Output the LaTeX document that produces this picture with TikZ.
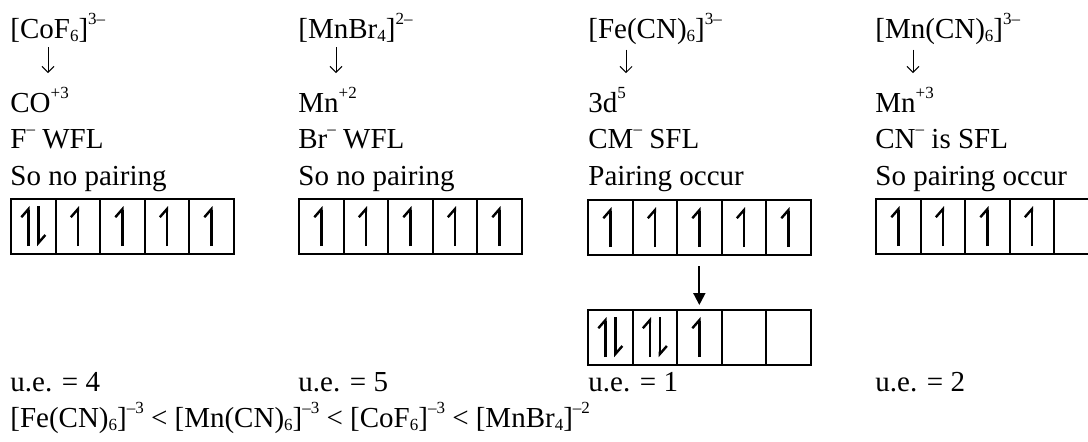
\documentclass[tikz,border=0pt]{standalone}
\usepackage{fontspec}
\setmainfont{Liberation Serif}
\usetikzlibrary{positioning, arrows.meta}
\newcommand{\chsub}[1]{\raisebox{-0.25ex}{\fontsize{8.5}{9}\selectfont #1}}
\newcommand{\chsup}[1]{\raisebox{1.0ex}{\fontsize{8.5}{9}\selectfont #1}}
\tikzset{
    txt/.style={
        anchor=base west,
        inner sep=0pt,
        font=\fontsize{14.5}{17}\selectfont
    },
    orbital/.style={
        draw=black,
        line width=1.1pt,
        minimum width=22.25pt,
        minimum height=27.5pt,
        inner sep=0pt,
        anchor=north west
    },
    spin/.style={
        line width=1.2pt,
        -{Straight Barb[harpoon, length=4pt, width=7pt]}
    },
    thinarrow/.style={
        line width=0.5pt,
        -{Straight Barb[length=3pt, width=6pt]}
    },
    bigarrow/.style={
        line width=1pt,
        -{Triangle[length=6pt, width=6pt]}
    }
}
\newcommand{\spinup}[1]{\draw[spin] ([yshift=4.5pt]#1.south) -- ([yshift=-4pt]#1.north);}
\newcommand{\spinpair}[1]{%
  \draw[spin] ([xshift=-2.5pt,yshift=4.5pt]#1.south) -- ([xshift=-2.5pt,yshift=-4pt]#1.north);
  \draw[spin] ([xshift=2.5pt,yshift=-4pt]#1.north) -- ([xshift=2.5pt,yshift=4.5pt]#1.south);}
\begin{document}
\begin{tikzpicture}[x=0.5pt, y=-0.5pt]

\useasboundingbox (0,0) rectangle (1088,441);
\clip (0,0) rectangle (1088,441);

%---------------- CoF6 ----------------

\node[txt] (cx1) at (10,38) {[CoF\chsub{6}]\chsup{3–}};
\node[txt] (ox1) at (10,112) {CO\chsup{+3}};
\node[txt] (lg1) at (10,148) {F\chsup{–} WFL};
\node[txt] (pr1) at (10,185) {So no pairing};
\draw[thinarrow] ([xshift=19pt,yshift=-2.5pt]cx1.south west) -- ([xshift=19pt,yshift=7pt]ox1.north west);

\foreach \i in {0,...,4}
    \node[orbital] (a\i) at ({10+44.5*\i},198) {};
\spinpair{a0}
\foreach \i in {1,...,4} {\spinup{a\i}}

\node[txt] (ue1) at (10,391) {u.e. = 4};

%---------------- MnBr4 ----------------

\node[txt] (cx2) at (298,38) {[MnBr\chsub{4}]\chsup{2–}};
\node[txt] (ox2) at (298,112) {Mn\chsup{+2}};
\node[txt] (lg2) at (298,148) {Br\chsup{–} WFL};
\node[txt] (pr2) at (298,185) {So no pairing};
\draw[thinarrow] ([xshift=19pt,yshift=-2.5pt]cx2.south west) -- ([xshift=19pt,yshift=7pt]ox2.north west);

\foreach \i in {0,...,4}
    \node[orbital] (b\i) at ({298+44.5*\i},198) {};
\foreach \i in {0,...,4} {\spinup{b\i}}

\node[txt] (ue2) at (298,391) {u.e. = 5};

%---------------- Fe(CN)6 ----------------

\node[txt] (cx3) at (588,38) {[Fe(CN)\chsub{6}]\chsup{3–}};
\node[txt] (ox3) at (588,112) {3d\chsup{5}};
\node[txt] (lg3) at (588,148) {CM\chsup{–} SFL};
\node[txt] (pr3) at (588,185) {Pairing occur};
\draw[thinarrow] ([xshift=19pt,yshift=-2.5pt]cx3.south west) -- ([xshift=19pt,yshift=7pt]ox3.north west);

\foreach \i in {0,...,4}
    \node[orbital] (c\i) at ({587+44.5*\i},199) {};
\foreach \i in {0,...,4} {\spinup{c\i}}

\foreach \i in {0,...,4}
    \node[orbital] (d\i) at ({587+44.5*\i},309) {};
\spinpair{d0}
\spinpair{d1}
\spinup{d2}

\draw[bigarrow] ([yshift=-5pt]c2.south) -- ([yshift=2pt]d2.north);

\node[txt] (ue3) at (588,391) {u.e. = 1};

%---------------- Mn(CN)6 ----------------

\node[txt] (cx4) at (875,38) {[Mn(CN)\chsub{6}]\chsup{3–}};
\node[txt] (ox4) at (875,112) {Mn\chsup{+3}};
\node[txt] (lg4) at (875,148) {CN\chsup{–} is SFL};
\node[txt] (pr4) at (875,185) {So pairing occur};
\draw[thinarrow] ([xshift=19pt,yshift=-2.5pt]cx4.south west) -- ([xshift=19pt,yshift=7pt]ox4.north west);

\foreach \i in {0,...,4}
    \node[orbital] (e\i) at ({875+44.5*\i},198) {};
\foreach \i in {0,...,3} {\spinup{e\i}}

\node[txt] (ue4) at (875,391) {u.e. = 2};

%---------------- Order ----------------

\node[txt] (order) at (10,427) {[Fe(CN)\chsub{6}]\chsup{–3} < [Mn(CN)\chsub{6}]\chsup{–3} < [CoF\chsub{6}]\chsup{–3} < [MnBr\chsub{4}]\chsup{–2}};

\end{tikzpicture}
\end{document}
